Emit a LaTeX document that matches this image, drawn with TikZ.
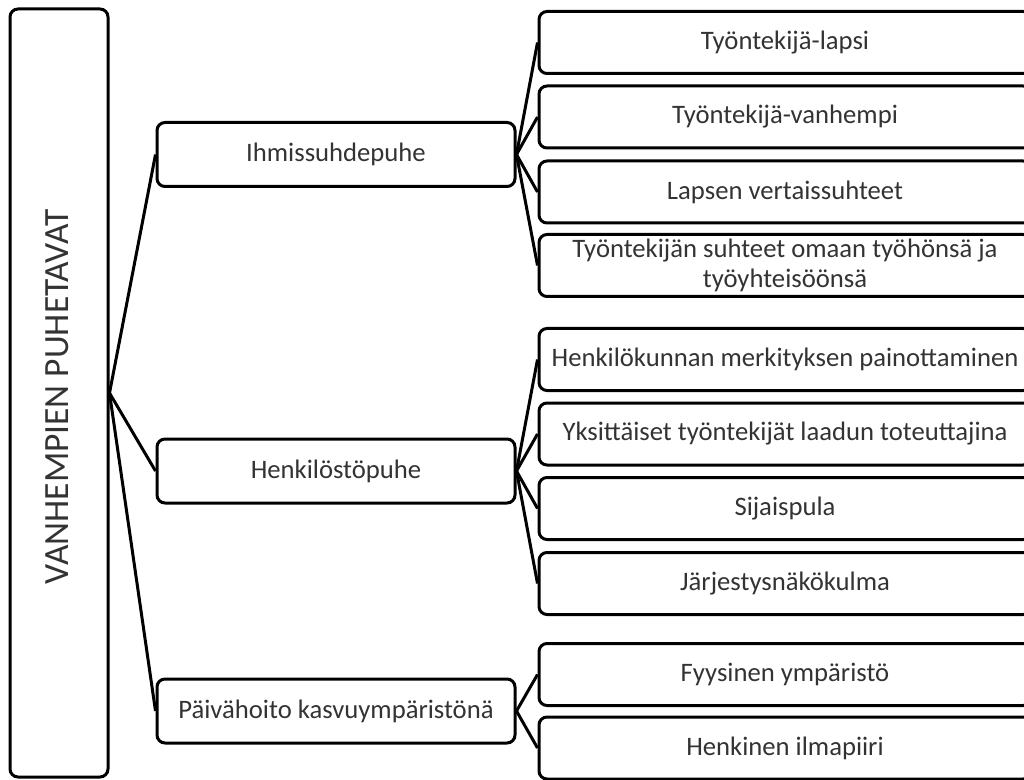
\documentclass[tikz,border=0pt]{standalone}
\usepackage{fontspec}
\setmainfont{Carlito}
\begin{document}
\begin{tikzpicture}[x=.75pt,y=-.75pt,
  box/.style={draw,line width=2.25pt,rounded corners=6pt,fill=white,
    text=black!80,font=\fontsize{20}{22}\selectfont,align=center,inner sep=0pt},
  rootbox/.style={box,minimum width=73.5pt,minimum height=576pt},
  midbox/.style={box,minimum width=268.5pt,minimum height=48pt},
  leafbox/.style={box,minimum width=369pt,minimum height=46.5pt},
  link/.style={line width=2.25pt}]
\useasboundingbox (0,0) rectangle (1024,780);
\clip (0,0) rectangle (1024,780);
% main box
\node[rootbox] (root) at (59,393) {};
\node[rotate=90,text=black!80,font=\fontsize{26.6}{30}\selectfont] (rootlabel) at (57,397) {VANHEMPIEN PUHETAVAT};
% second level
\node[midbox] (ihm) at (336,154.5) {Ihmissuhdepuhe};
\node[midbox] (hen) at (336,471) {Henkilöstöpuhe};
\node[midbox] (pai) at (336,711) {Päivähoito kasvuympäristönä};
% third level
\node[leafbox] (tl) at (785,42.5) {Työntekijä-lapsi};
\node[leafbox] (tv) at (785,117) {Työntekijä-vanhempi};
\node[leafbox] (lv) at (785,192) {Lapsen vertaissuhteet};
\node[leafbox] (ts) at (785,265.5) {Työntekijän suhteet omaan työhönsä ja\\työyhteisöönsä};
\node[leafbox] (hm) at (785,359.5) {Henkilökunnan merkityksen painottaminen};
\node[leafbox] (yt) at (785,434) {Yksittäiset työntekijät laadun toteuttajina};
\node[leafbox] (sp) at (785,508.5) {Sijaispula};
\node[leafbox] (jn) at (785,583.5) {Järjestysnäkökulma};
\node[leafbox] (fy) at (785,674.5) {Fyysinen ympäristö};
\node[leafbox] (hi) at (785,748) {Henkinen ilmapiiri};
% connectors
\foreach \m in {ihm,hen,pai}
  \draw[link] (root.east) -- (\m.west);
\foreach \l in {tl,tv,lv,ts}
  \draw[link] (ihm.east) -- (\l.west);
\foreach \l in {hm,yt,sp,jn}
  \draw[link] (hen.east) -- (\l.west);
\foreach \l in {fy,hi}
  \draw[link] (pai.east) -- (\l.west);
\end{tikzpicture}
\end{document}
